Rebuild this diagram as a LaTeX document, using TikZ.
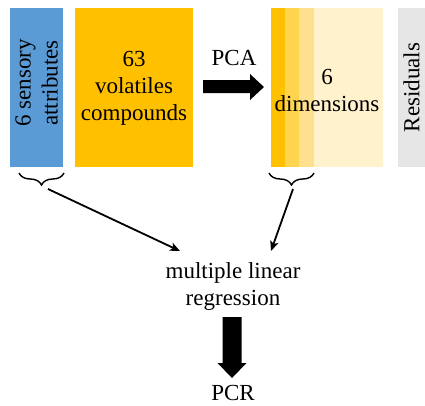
\documentclass[tikz,border=0pt]{standalone}
\usepackage{fontspec}
\setmainfont{Liberation Serif}
\usetikzlibrary{decorations.pathreplacing,arrows.meta}
\definecolor{cblue}{HTML}{5B9BD5}
\definecolor{corange}{HTML}{FFC000}
\definecolor{cstripeb}{HTML}{FFD44F}
\definecolor{cstripec}{HTML}{FFE08F}
\definecolor{cstriped}{HTML}{FFF2CC}
\definecolor{cgray}{HTML}{E7E6E6}
\tikzset{
  box/.style={draw=none, inner sep=0pt, minimum height=159pt},
  lbl/.style={align=center, inner sep=0pt},
  bracestyle/.style={decorate, decoration={brace, mirror, amplitude=12pt}, line width=1.4pt},
  conn/.style={line width=1.8pt, -{Stealth[length=10pt, width=8.5pt, inset=2.5pt]}},
  bigarrow/.style={fill=black}
}
\begin{document}
\begin{tikzpicture}[x=1pt, y=-1pt, font=\fontsize{23}{27}\selectfont]
\useasboundingbox (0,0) rectangle (425,405);
\clip (0,0) rectangle (425,405);

% boxes
\node[box, fill=cblue, minimum width=53pt] (sens) at (36.5,87.5) {};
\node[lbl, rotate=90] (senst) at (36.5,83) {6 sensory\\attributes};

\node[box, fill=corange, minimum width=118pt] (vol) at (134,87.5) {};
\node[lbl] (volt) at (134,88) {63\\volatiles\\compounds};

\fill[cstriped] (271,8) rectangle (383,167);
\fill[corange] (271,8) rectangle (285,167);
\fill[cstripeb] (285,8) rectangle (299,167);
\fill[cstripec] (299,8) rectangle (314,167);
\node[lbl] (dim) at (327,90) {6\\dimensions};

\node[box, fill=cgray, minimum width=40pt] (res) at (418,87.5) {};
\node[lbl, rotate=90] (rest) at (411.5,87.5) {Residuals};

% PCA arrow
\node[anchor=base] (pca) at (234,65) {PCA};
\fill[bigarrow] (203,80) -- (250,80) -- (250,74) -- (264,87) -- (250,100) -- (250,93) -- (203,93) -- cycle;

% braces
\draw[bracestyle] (19,173) -- (64,173);
\draw[bracestyle] (269,173) -- (314,173);
\coordinate (b1) at (48,189);
\coordinate (b2) at (293,189);
\coordinate (m1) at (180,251);
\coordinate (m2) at (271,251);

\node[lbl] (mlr) at (233,286) {multiple linear\\regression};
\draw[conn] (b1) -- (m1);
\draw[conn] (b2) -- (m2);

% down arrow
\fill[bigarrow] (222.5,317) -- (241.5,317) -- (241.5,363) -- (246.5,363) -- (232,378) -- (217.5,363) -- (222.5,363) -- cycle;
\node[anchor=base] (pcr) at (233,400) {PCR};
\end{tikzpicture}
\end{document}
